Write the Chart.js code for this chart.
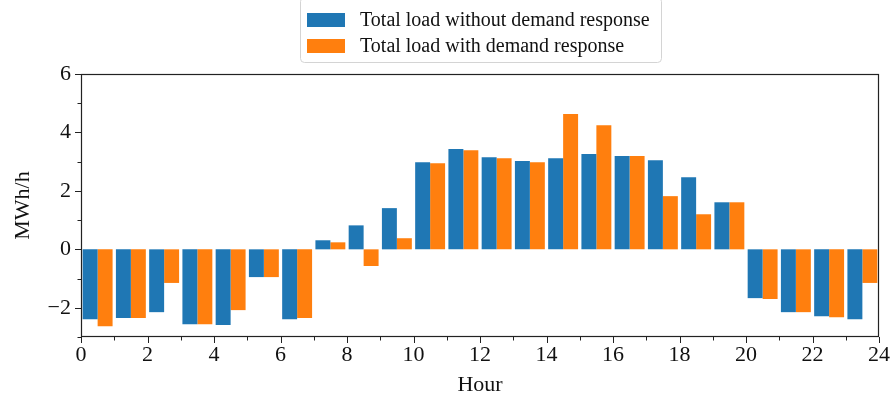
<!DOCTYPE html>
<html>
<head>
<meta charset="utf-8">
<script src="https://cdn.jsdelivr.net/npm/chart.js@4/dist/chart.umd.min.js"></script>
<style>
  html, body { margin: 0; padding: 0; background: #fff; }
  #wrap { width: 892px; height: 394px; position: relative; }
</style>
</head>
<body>
<div id="wrap"><canvas id="load-chart"></canvas></div>
<script>
const hours = Array.from({ length: 24 }, (_, i) => i);
const loadWithoutDR = [
  -2.39, -2.35, -2.15, -2.56, -2.59, -0.95, -2.39, 0.31, 0.82, 1.41, 2.98, 3.43,
  3.15, 3.02, 3.12, 3.26, 3.19, 3.05, 2.47, 1.61, -1.67, -2.15, -2.29, -2.39,
];
const loadWithDR = [
  -2.63, -2.35, -1.15, -2.56, -2.08, -0.95, -2.35, 0.24, -0.57, 0.38, 2.95, 3.39,
  3.12, 2.98, 4.63, 4.25, 3.19, 1.82, 1.20, 1.61, -1.70, -2.15, -2.32, -1.15,
];

const SERIF = '"Liberation Serif", "Times New Roman", serif';
const BLUE = '#1f77b4';
const ORANGE = '#ff7f0e';

// frame, tick marks (long on even values, short on odd) and a boxed legend
const axesDecor = {
  id: 'axesDecor',
  afterDraw(chart) {
    const { ctx, chartArea: a } = chart;
    const ys = chart.scales.y;
    const xs = chart.scales.x2;
    ctx.save();
    ctx.strokeStyle = '#222';
    ctx.lineWidth = 1;
    ys.ticks.forEach((t) => {
      const py = Math.round(ys.getPixelForValue(t.value)) + 0.5;
      const len = t.value % 2 === 0 ? 6 : 3.5;
      ctx.beginPath();
      ctx.moveTo(a.left - len, py);
      ctx.lineTo(a.left, py);
      ctx.stroke();
    });
    xs.ticks.forEach((t) => {
      const px = Math.round(xs.getPixelForValue(t.value)) + 0.5;
      const len = t.value % 2 === 0 ? 6 : 3.5;
      ctx.beginPath();
      ctx.moveTo(px, a.bottom);
      ctx.lineTo(px, a.bottom + len);
      ctx.stroke();
    });
    ctx.lineWidth = 1.2;
    ctx.strokeRect(a.left + 0.5, a.top + 0.5, a.right - a.left - 1, a.bottom - a.top - 1);

    // legend
    const bx = 300, by = -3, bw = 361, bh = 65;
    ctx.beginPath();
    ctx.roundRect(bx + 0.5, by + 0.5, bw, bh, 4);
    ctx.fillStyle = 'rgba(255,255,255,0.85)';
    ctx.fill();
    ctx.strokeStyle = '#d4d4d4';
    ctx.lineWidth = 1;
    ctx.stroke();
    ctx.font = '20px ' + SERIF;
    ctx.textBaseline = 'middle';
    ctx.textAlign = 'left';
    chart.data.datasets.forEach((ds, i) => {
      const cy = 20 + i * 26;
      ctx.fillStyle = ds.backgroundColor;
      ctx.fillRect(307, cy - 7, 38, 14);
      ctx.fillStyle = '#111';
      ctx.fillText(ds.label, 360, cy + 1);
    });
    ctx.restore();
  },
};

new Chart(document.getElementById('load-chart'), {
  type: 'bar',
  data: {
    labels: hours,
    datasets: [
      { label: 'Total load without demand response', data: loadWithoutDR, backgroundColor: BLUE },
      { label: 'Total load with demand response', data: loadWithDR, backgroundColor: ORANGE },
    ],
  },
  options: {
    responsive: true,
    maintainAspectRatio: false,
    animation: false,
    layout: { padding: { top: 74, right: 13, left: 0, bottom: 0 } },
    datasets: { bar: { categoryPercentage: 0.9, barPercentage: 1.0, borderWidth: 0 } },
    plugins: { legend: { display: false }, tooltip: { enabled: false } },
    scales: {
      x: { type: 'category', display: false },
      x2: {
        type: 'linear',
        position: 'bottom',
        offset: false,
        min: 0,
        max: 24,
        afterFit: (s) => {
          s.height = 57;
          s.paddingLeft = 0;
          s.paddingRight = 0;
        },
        grid: { display: false, drawTicks: false, offset: false },
        border: { display: false },
        ticks: {
          stepSize: 1,
          autoSkip: false,
          maxRotation: 0,
          padding: 5,
          color: '#111',
          font: { family: SERIF, size: 22 },
          callback: (v) => (v % 2 === 0 ? String(v) : ''),
        },
        title: {
          display: true,
          text: 'Hour',
          color: '#111',
          font: { family: SERIF, size: 22, lineHeight: 0.8 },
          padding: 0,
        },
      },
      y: {
        min: -3,
        max: 6,
        afterFit: (s) => { s.width = 81; },
        grid: { display: false, drawTicks: false },
        border: { display: false },
        ticks: {
          stepSize: 1,
          autoSkip: false,
          padding: 10,
          color: '#111',
          font: { family: SERIF, size: 22 },
          callback: (v) => (v % 2 === 0 ? String(v).replace('-', '\u2212') : ''),
        },
        title: {
          display: true,
          text: 'MWh/h',
          color: '#111',
          font: { family: SERIF, size: 22, lineHeight: 1 },
          padding: { top: 12, bottom: 0 },
        },
      },
    },
  },
  plugins: [axesDecor],
});
</script>
</body>
</html>
